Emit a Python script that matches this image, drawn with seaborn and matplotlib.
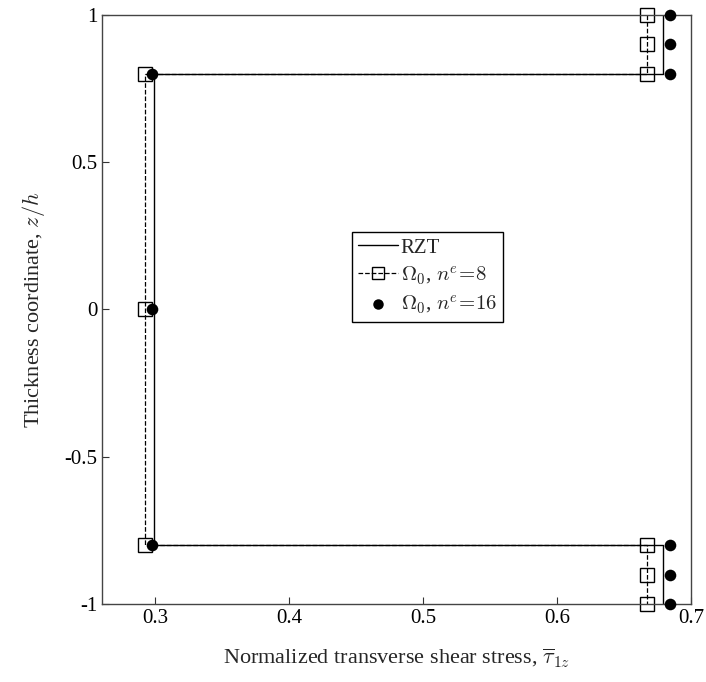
import numpy as np
import pandas as pd
import matplotlib
matplotlib.use("Agg")
import matplotlib.pyplot as plt
import seaborn as sns

# RZT solution (through-thickness profile)
rzt_tau = [0.679, 0.679, 0.2995, 0.2995, 0.679, 0.679]
rzt_z = [1.0, 0.8, 0.8, -0.8, -0.8, -1.0]

# Omega_0, n^e = 8
ne8_tau = [0.667, 0.667, 0.667, 0.2925, 0.2925, 0.2925, 0.667, 0.667, 0.667]
ne8_z = [1.0, 0.9, 0.8, 0.8, 0.0, -0.8, -0.8, -0.9, -1.0]

# Omega_0, n^e = 16
ne16_tau = [0.684, 0.684, 0.684, 0.298, 0.298, 0.298, 0.684, 0.684, 0.684]
ne16_z = [1.0, 0.9, 0.8, 0.8, 0.0, -0.8, -0.8, -0.9, -1.0]

x_ticks = [0.3, 0.4, 0.5, 0.6, 0.7]
y_ticks = [-1, -0.5, 0, 0.5, 1]
y_tick_labels = ["-1", "-0.5", "0", "0.5", "1"]

sns.set_style("ticks")
plt.rcParams["font.family"] = ["Liberation Serif", "DejaVu Serif"]
plt.rcParams["mathtext.fontset"] = "cm"
plt.rcParams["xtick.direction"] = "in"
plt.rcParams["ytick.direction"] = "in"

fig = plt.figure(figsize=(7.06, 6.82), dpi=100)
ax = fig.add_axes([0.1445, 0.1144, 0.8345, 0.8636])

sns.lineplot(x=rzt_tau, y=rzt_z, sort=False, estimator=None, ax=ax,
             color="black", linewidth=1.0, label="RZT")
sns.lineplot(x=ne8_tau, y=ne8_z, sort=False, estimator=None, ax=ax,
             color="black", linewidth=0.9, linestyle="--", marker="s",
             markersize=9.5, markerfacecolor="none", markeredgecolor="black",
             markeredgewidth=1.0, clip_on=False, label=r"$\Omega_0$, $n^e\!=\!8$")
sns.scatterplot(x=ne16_tau, y=ne16_z, ax=ax, color="black", marker="o",
                s=70, edgecolor="black", linewidth=0, zorder=5, clip_on=False,
                label=r"$\Omega_0$, $n^e\!=\!16$")

ax.set_xlim(0.2605, 0.7)
ax.set_ylim(-1, 1)
ax.set_xticks(x_ticks)
ax.set_xticklabels([str(t) for t in x_ticks])
ax.set_yticks(y_ticks)
ax.set_yticklabels(y_tick_labels)
ax.tick_params(labelsize=15, length=5, width=0.8, colors="#333333",
               labelcolor="black", top=False, right=False)
for s in ax.spines.values():
    s.set_visible(True)
    s.set_color("#444444")
    s.set_linewidth(1.0)

ax.set_xlabel(r"Normalized transverse shear stress, $\overline{\tau}_{1z}$",
              fontsize=16, labelpad=14)
ax.set_ylabel(r"Thickness coordinate, $z/h$", fontsize=16, labelpad=12)

leg = ax.legend(loc="upper left", bbox_to_anchor=(0.424, 0.632), fontsize=15,
                frameon=True, fancybox=False, edgecolor="black",
                framealpha=1, handlelength=1.9, handletextpad=0.15,
                borderpad=0.3, labelspacing=0.3, borderaxespad=0,
                markerscale=0.9)
leg.get_frame().set_linewidth(1.0)

fig.savefig("out.png", dpi=100)
